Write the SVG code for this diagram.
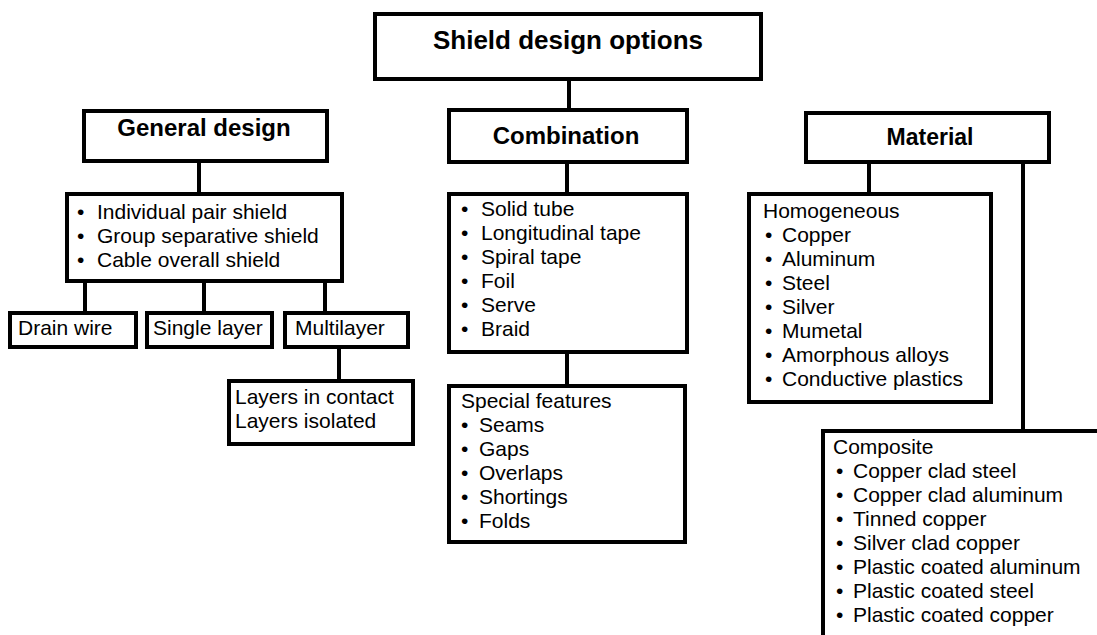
<svg xmlns="http://www.w3.org/2000/svg" width="1097" height="635" viewBox="0 0 1097 635">
<style>
.box{fill:#fff;stroke:#000;stroke-width:4}
.ln{stroke:#000;stroke-width:4;fill:none}
.h{font-family:"Liberation Sans",Arial,sans-serif;font-weight:bold;text-anchor:middle;fill:#000}
.t{font-family:"Liberation Sans",Arial,sans-serif;font-size:21px;fill:#000}
</style>
<rect width="1097" height="635" fill="#fff"/>
<g id="connectors">
<path class="ln" d="M569 79V110"/>
<path class="ln" d="M199 161V194"/>
<path class="ln" d="M85 281V313M204 281V313M325 281V313"/>
<path class="ln" d="M339 347V381"/>
<path class="ln" d="M567 162V194"/>
<path class="ln" d="M567 352V386"/>
<path class="ln" d="M869 162V194"/>
<path class="ln" d="M1023 162V431"/>
</g>
<g id="root">
<rect class="box" x="375" y="14" width="386" height="65"/>
<text class="h" x="568" y="49" font-size="26">Shield design options</text>
</g>
<g id="general">
<rect class="box" x="84" y="111" width="243" height="50"/>
<text class="h" x="204" y="136" font-size="24">General design</text>
</g>
<g id="general-list">
<rect class="box" x="67" y="194" width="275" height="87"/>
<text class="t"><tspan x="77" y="219">•</tspan><tspan x="97" y="219">Individual pair shield</tspan></text>
<text class="t"><tspan x="77" y="243">•</tspan><tspan x="97" y="243">Group separative shield</tspan></text>
<text class="t"><tspan x="77" y="267">•</tspan><tspan x="97" y="267">Cable overall shield</tspan></text>
</g>
<g id="drain">
<rect class="box" x="10" y="313" width="126" height="34"/>
<text class="t" x="18" y="335">Drain wire</text>
</g>
<g id="single">
<rect class="box" x="147" y="313" width="125" height="34"/>
<text class="t" x="153" y="335">Single layer</text>
</g>
<g id="multilayer">
<rect class="box" x="285" y="313" width="123" height="34"/>
<text class="t" x="295" y="335">Multilayer</text>
</g>
<g id="layers">
<rect class="box" x="229" y="381" width="184" height="63"/>
<text class="t" x="235" y="404">Layers in contact</text>
<text class="t" x="235" y="428">Layers isolated</text>
</g>
<g id="combination">
<rect class="box" x="449" y="110" width="238" height="52"/>
<text class="h" x="566" y="144" font-size="24">Combination</text>
</g>
<g id="combination-list">
<rect class="box" x="449" y="194" width="238" height="158"/>
<text class="t"><tspan x="461" y="216">•</tspan><tspan x="481" y="216">Solid tube</tspan></text>
<text class="t"><tspan x="461" y="240">•</tspan><tspan x="481" y="240">Longitudinal tape</tspan></text>
<text class="t"><tspan x="461" y="264">•</tspan><tspan x="481" y="264">Spiral tape</tspan></text>
<text class="t"><tspan x="461" y="288">•</tspan><tspan x="481" y="288">Foil</tspan></text>
<text class="t"><tspan x="461" y="312">•</tspan><tspan x="481" y="312">Serve</tspan></text>
<text class="t"><tspan x="461" y="336">•</tspan><tspan x="481" y="336">Braid</tspan></text>
</g>
<g id="special">
<rect class="box" x="449" y="386" width="236" height="156"/>
<text class="t" x="461" y="408">Special features</text>
<text class="t"><tspan x="461" y="432">•</tspan><tspan x="479" y="432">Seams</tspan></text>
<text class="t"><tspan x="461" y="456">•</tspan><tspan x="479" y="456">Gaps</tspan></text>
<text class="t"><tspan x="461" y="480">•</tspan><tspan x="479" y="480">Overlaps</tspan></text>
<text class="t"><tspan x="461" y="504">•</tspan><tspan x="479" y="504">Shortings</tspan></text>
<text class="t"><tspan x="461" y="528">•</tspan><tspan x="479" y="528">Folds</tspan></text>
</g>
<g id="material">
<rect class="box" x="806" y="113" width="243" height="49"/>
<text class="h" x="930" y="145" font-size="23">Material</text>
</g>
<g id="homogeneous">
<rect class="box" x="749" y="194" width="242" height="208"/>
<text class="t" x="763" y="218">Homogeneous</text>
<text class="t"><tspan x="765" y="242">•</tspan><tspan x="782" y="242">Copper</tspan></text>
<text class="t"><tspan x="765" y="266">•</tspan><tspan x="782" y="266">Aluminum</tspan></text>
<text class="t"><tspan x="765" y="290">•</tspan><tspan x="782" y="290">Steel</tspan></text>
<text class="t"><tspan x="765" y="314">•</tspan><tspan x="782" y="314">Silver</tspan></text>
<text class="t"><tspan x="765" y="338">•</tspan><tspan x="782" y="338">Mumetal</tspan></text>
<text class="t"><tspan x="765" y="362">•</tspan><tspan x="782" y="362">Amorphous alloys</tspan></text>
<text class="t"><tspan x="765" y="386">•</tspan><tspan x="782" y="386">Conductive plastics</tspan></text>
</g>
<g id="composite">
<rect class="box" x="823" y="431" width="300" height="300"/>
<text class="t" x="833" y="454">Composite</text>
<text class="t"><tspan x="836" y="478">•</tspan><tspan x="853" y="478">Copper clad steel</tspan></text>
<text class="t"><tspan x="836" y="502">•</tspan><tspan x="853" y="502">Copper clad aluminum</tspan></text>
<text class="t"><tspan x="836" y="526">•</tspan><tspan x="853" y="526">Tinned copper</tspan></text>
<text class="t"><tspan x="836" y="550">•</tspan><tspan x="853" y="550">Silver clad copper</tspan></text>
<text class="t"><tspan x="836" y="574">•</tspan><tspan x="853" y="574">Plastic coated aluminum</tspan></text>
<text class="t"><tspan x="836" y="598">•</tspan><tspan x="853" y="598">Plastic coated steel</tspan></text>
<text class="t"><tspan x="836" y="622">•</tspan><tspan x="853" y="622">Plastic coated copper</tspan></text>
</g>
</svg>
